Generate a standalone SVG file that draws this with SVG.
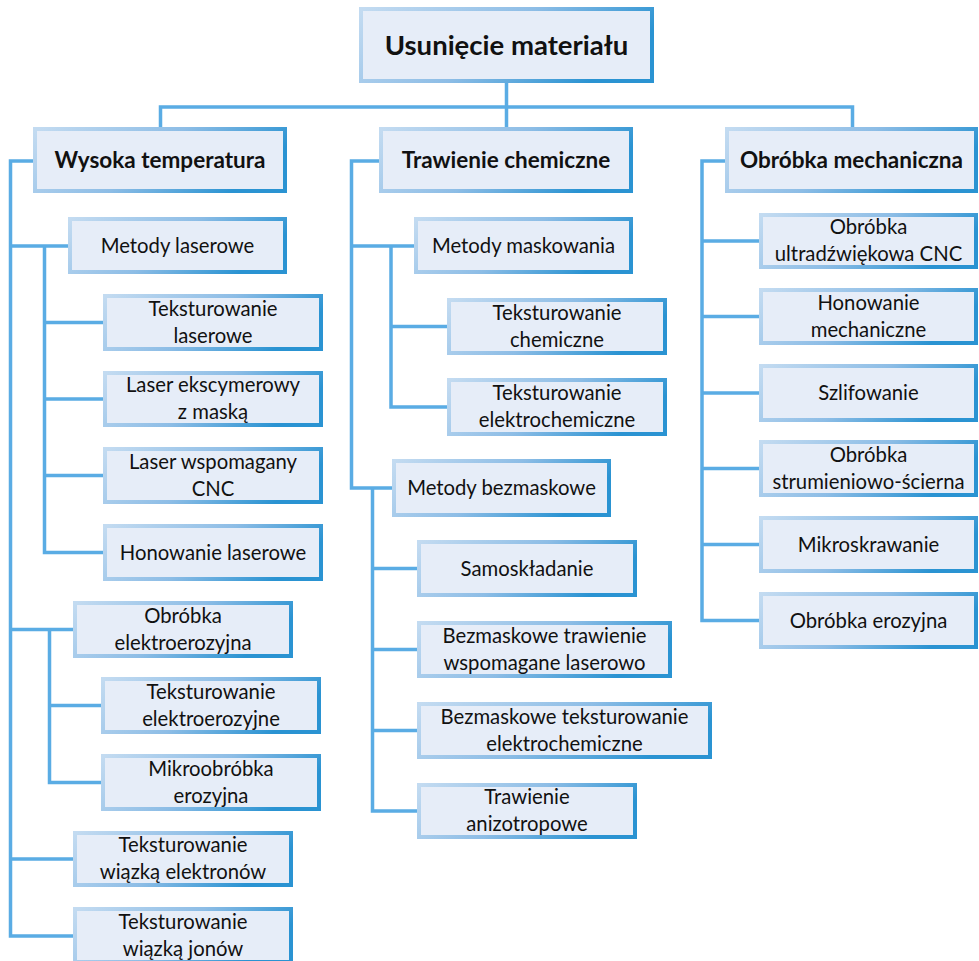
<svg xmlns="http://www.w3.org/2000/svg" width="979" height="961" viewBox="0 0 979 961">
  <defs>
    <linearGradient id="edge" x1="0" y1="0" x2="1" y2="0.3">
      <stop offset="0" stop-color="#C3DBF1"/>
      <stop offset="0.55" stop-color="#8DBDE6"/>
      <stop offset="1" stop-color="#2A93D2"/>
    </linearGradient>
  </defs>
  <style>
    rect.box { fill: #E6EDF8; stroke: url(#edge); stroke-width: 4; }
    text { font-family: Lato, "Open Sans", "Liberation Sans", sans-serif; fill: #111; text-anchor: middle; }
    text.t { font-size: 20.3px; }
    text.h { font-size: 22.5px; font-weight: bold; }
    text.root { font-size: 27.5px; font-weight: bold; }
    #connectors path { fill: none; stroke: #5AACE4; stroke-width: 3.5; stroke-linejoin: miter; }
  </style>

  <!-- tree lines, drawn beneath the boxes -->
  <g id="connectors">
    <path d="M160.5,127 V107 H852.5 V127 M506.5,83 V127"/>
    <!-- Wysoka temperatura -->
    <path d="M33,161 H10.5 V936 H73 M10.5,246 H68 M10.5,629.5 H73 M10.5,859 H73"/>
    <path d="M44.5,246 V552.5 H103 M44.5,322.5 H103 M44.5,399 H103 M44.5,475.5 H103"/>
    <path d="M49.5,629.5 V782.5 H101 M49.5,705.5 H101"/>
    <!-- Trawienie chemiczne -->
    <path d="M379,161 H351.5 V488 H392 M351.5,246 H414"/>
    <path d="M391,246 V407 H447 M391,326.5 H447"/>
    <path d="M372.5,488 V811 H417 M372.5,568.5 H417 M372.5,649.5 H417 M372.5,730.5 H417"/>
    <!-- Obróbka mechaniczna -->
    <path d="M725,161 H702 V620.5 H759 M702,241 H759 M702,316.5 H759 M702,393 H759 M702,468.5 H759 M702,544.5 H759"/>
  </g>

  <!-- root -->
  <g id="usuniecie">
    <rect class="box" x="361" y="9" width="291" height="72"/>
    <text class="root" x="506.5" y="54.5">Usunięcie materiału</text>
  </g>

  <!-- level 1 -->
  <g id="wysoka-temperatura">
    <rect class="box" x="35" y="129" width="250" height="62"/>
    <text class="h" x="160" y="167.5">Wysoka temperatura</text>
  </g>
  <g id="trawienie-chemiczne">
    <rect class="box" x="381" y="129" width="250" height="62"/>
    <text class="h" x="506" y="167.5">Trawienie chemiczne</text>
  </g>
  <g id="obrobka-mechaniczna">
    <rect class="box" x="727" y="129" width="249" height="62"/>
    <text class="h" x="851.5" y="167.5">Obróbka mechaniczna</text>
  </g>

  <!-- Wysoka temperatura branch -->
  <g id="metody-laserowe">
    <rect class="box" x="70" y="219" width="215" height="53"/>
    <text class="t" x="177.5" y="252.5">Metody laserowe</text>
  </g>
  <g id="teksturowanie-laserowe">
    <rect class="box" x="105" y="296" width="216" height="53"/>
    <text class="t" x="213" y="315.8">Teksturowanie</text>
    <text class="t" x="213" y="342.5">laserowe</text>
  </g>
  <g id="laser-ekscymerowy">
    <rect class="box" x="105" y="373" width="216" height="52"/>
    <text class="t" x="213" y="392.3">Laser ekscymerowy</text>
    <text class="t" x="213" y="419">z maską</text>
  </g>
  <g id="laser-wspomagany">
    <rect class="box" x="105" y="449" width="216" height="53"/>
    <text class="t" x="213" y="468.8">Laser wspomagany</text>
    <text class="t" x="213" y="495.5">CNC</text>
  </g>
  <g id="honowanie-laserowe">
    <rect class="box" x="105" y="526" width="216" height="53"/>
    <text class="t" x="213" y="559.5">Honowanie laserowe</text>
  </g>
  <g id="obrobka-elektroerozyjna">
    <rect class="box" x="75" y="603" width="216" height="53"/>
    <text class="t" x="183" y="622.8">Obróbka</text>
    <text class="t" x="183" y="649.5">elektroerozyjna</text>
  </g>
  <g id="teksturowanie-elektroerozyjne">
    <rect class="box" x="103" y="679" width="216" height="53"/>
    <text class="t" x="211" y="698.8">Teksturowanie</text>
    <text class="t" x="211" y="725.5">elektroerozyjne</text>
  </g>
  <g id="mikroobrobka-erozyjna">
    <rect class="box" x="103" y="756" width="216" height="53"/>
    <text class="t" x="211" y="775.8">Mikroobróbka</text>
    <text class="t" x="211" y="802.5">erozyjna</text>
  </g>
  <g id="wiazka-elektronow">
    <rect class="box" x="75" y="833" width="216" height="52"/>
    <text class="t" x="183" y="852.3">Teksturowanie</text>
    <text class="t" x="183" y="879">wiązką elektronów</text>
  </g>
  <g id="wiazka-jonow">
    <rect class="box" x="75" y="909" width="216" height="53"/>
    <text class="t" x="183" y="928.8">Teksturowanie</text>
    <text class="t" x="183" y="955.5">wiązką jonów</text>
  </g>

  <!-- Trawienie chemiczne branch -->
  <g id="metody-maskowania">
    <rect class="box" x="416" y="219" width="215" height="53"/>
    <text class="t" x="523.5" y="252.5">Metody maskowania</text>
  </g>
  <g id="teksturowanie-chemiczne">
    <rect class="box" x="449" y="300" width="216" height="53"/>
    <text class="t" x="557" y="319.8">Teksturowanie</text>
    <text class="t" x="557" y="346.5">chemiczne</text>
  </g>
  <g id="teksturowanie-elektrochemiczne">
    <rect class="box" x="449" y="380" width="216" height="54"/>
    <text class="t" x="557" y="400.3">Teksturowanie</text>
    <text class="t" x="557" y="427">elektrochemiczne</text>
  </g>
  <g id="metody-bezmaskowe">
    <rect class="box" x="394" y="461" width="215" height="54"/>
    <text class="t" x="501.5" y="495">Metody bezmaskowe</text>
  </g>
  <g id="samoskladanie">
    <rect class="box" x="419" y="542" width="216" height="53"/>
    <text class="t" x="527" y="575.5">Samoskładanie</text>
  </g>
  <g id="bezmaskowe-trawienie">
    <rect class="box" x="419" y="623" width="251" height="53"/>
    <text class="t" x="544.5" y="642.8">Bezmaskowe trawienie</text>
    <text class="t" x="544.5" y="669.5">wspomagane laserowo</text>
  </g>
  <g id="bezmaskowe-teksturowanie">
    <rect class="box" x="419" y="704" width="291" height="53"/>
    <text class="t" x="564.5" y="723.8">Bezmaskowe teksturowanie</text>
    <text class="t" x="564.5" y="750.5">elektrochemiczne</text>
  </g>
  <g id="trawienie-anizotropowe">
    <rect class="box" x="419" y="785" width="216" height="52"/>
    <text class="t" x="527" y="804.3">Trawienie</text>
    <text class="t" x="527" y="831">anizotropowe</text>
  </g>

  <!-- Obróbka mechaniczna branch -->
  <g id="obrobka-ultradzwiekowa">
    <rect class="box" x="761" y="215" width="215" height="52"/>
    <text class="t" x="868.5" y="234.3">Obróbka</text>
    <text class="t" x="868.5" y="261">ultradźwiękowa CNC</text>
  </g>
  <g id="honowanie-mechaniczne">
    <rect class="box" x="761" y="290" width="215" height="53"/>
    <text class="t" x="868.5" y="309.8">Honowanie</text>
    <text class="t" x="868.5" y="336.5">mechaniczne</text>
  </g>
  <g id="szlifowanie">
    <rect class="box" x="761" y="366" width="215" height="54"/>
    <text class="t" x="868.5" y="400">Szlifowanie</text>
  </g>
  <g id="obrobka-strumieniowo-scierna">
    <rect class="box" x="761" y="442" width="215" height="53"/>
    <text class="t" x="868.5" y="461.8">Obróbka</text>
    <text class="t" x="868.5" y="488.5">strumieniowo-ścierna</text>
  </g>
  <g id="mikroskrawanie">
    <rect class="box" x="761" y="518" width="215" height="53"/>
    <text class="t" x="868.5" y="551.5">Mikroskrawanie</text>
  </g>
  <g id="obrobka-erozyjna">
    <rect class="box" x="761" y="594" width="215" height="53"/>
    <text class="t" x="868.5" y="627.5">Obróbka erozyjna</text>
  </g>
</svg>
